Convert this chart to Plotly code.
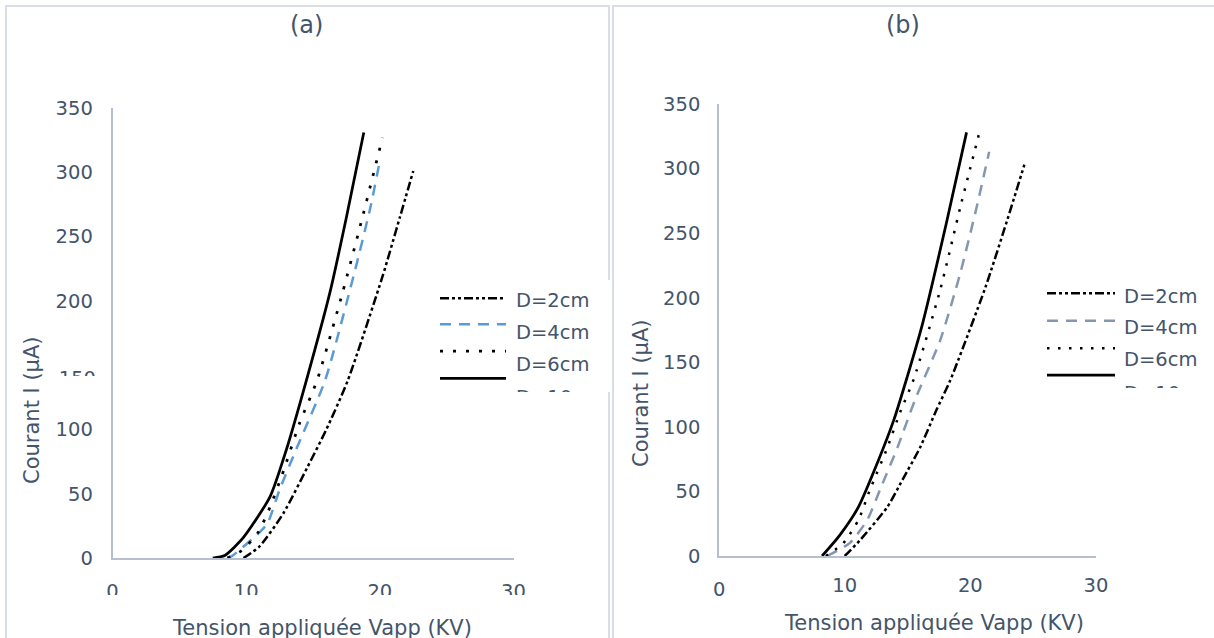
import plotly.graph_objects as go

# ---- data -------------------------------------------------------------
names = ["D=2cm", "D=4cm", "D=6cm", "D=10cm"]

# panel (a)
va_2 = [9.8, 11.0, 12.8, 14.6, 16.0, 17.6, 20.2, 21.5, 22.5]
ia_2 = [0, 9, 35, 71, 100, 138, 219, 265, 301]
va_4 = [8.6, 9.0, 11.0, 11.6, 12.5, 13.8, 15.9, 18.1, 19.3, 20.0]
ia_4 = [0, 2, 20, 27, 53, 86, 138, 222, 273, 309]
va_6 = [8.6, 9.7, 10.9, 11.8, 12.8, 14.0, 15.3, 17.2, 18.7, 20.2]
ia_6 = [0, 6, 20, 40, 68, 105, 138, 206, 265, 327]
va_10 = [7.5, 8.4, 9.8, 11.8, 13.0, 14.5, 16.3, 17.5, 18.8]
ia_10 = [0, 2, 16, 48, 84, 138, 208, 265, 331]

# panel (b)
vb_2 = [10.0, 11.2, 13.4, 14.6, 16.0, 17.3, 18.4, 21.2, 22.9, 24.3]
ib_2 = [0, 12, 38, 59, 84, 113, 136, 208, 259, 303]
vb_4 = [8.6, 10.4, 11.8, 12.8, 14.2, 15.6, 17.6, 19.2, 20.5, 21.5]
ib_4 = [0, 10, 28, 51, 84, 121, 167, 219, 270, 313]
vb_6 = [8.5, 9.9, 11.1, 12.0, 13.4, 14.4, 15.5, 17.6, 19.2, 20.8]
ib_6 = [0, 10, 28, 51, 84, 111, 137, 206, 270, 331]
vb_10 = [8.2, 9.6, 11.1, 12.6, 13.9, 14.8, 16.2, 18.1, 19.7]
ib_10 = [0, 16, 38, 72, 105, 133, 180, 258, 328]

x_ticks = [0, 10, 20, 30]
y_ticks = [0, 50, 100, 150, 200, 250, 300, 350]
y_labels = [str(v) for v in y_ticks]

# ---- style ------------------------------------------------------------
W, H = 1214, 638
FONT = "DejaVu Sans"
TXT = "#44546A"
AXIS = "#B5BFD0"
BORDER = "#D9DEE6"
FS_TICK = 19.5
FS_LEG = 19.5
FS_TITLE = 21

def px(x):
    return x / W

def py(y):
    return 1 - y / H

DASH_2 = "9px,3px,3px,3px,3px,3px"
styles_a = [
    dict(color="black", width=2.5, dash=DASH_2),
    dict(color="#5B9BD5", width=2.5, dash="11px,8px"),
    dict(color="black", width=2.75, dash="3px,10px"),
    dict(color="black", width=2.75, dash="solid"),
]
styles_b = [
    dict(color="black", width=2.5, dash=DASH_2),
    dict(color="#8497B0", width=2.5, dash="11px,8px"),
    dict(color="black", width=2.5, dash="2.5px,8.5px"),
    dict(color="black", width=2.75, dash="solid"),
]

fig = go.Figure()

series_a = [(va_2, ia_2), (va_4, ia_4), (va_6, ia_6), (va_10, ia_10)]
series_b = [(vb_2, ib_2), (vb_4, ib_4), (vb_6, ib_6), (vb_10, ib_10)]

for (v, i), st, n in zip(series_a, styles_a, names):
    fig.add_trace(go.Scatter(x=v, y=i, mode="lines",
                             line=dict(st, shape="spline", smoothing=0.6),
                             name=n, showlegend=False, xaxis="x", yaxis="y"))
for (v, i), st, n in zip(series_b, styles_b, names):
    fig.add_trace(go.Scatter(x=v, y=i, mode="lines",
                             line=dict(st, shape="spline", smoothing=0.6),
                             name=n, showlegend=False, xaxis="x2", yaxis="y2"))

tf_tick = dict(family=FONT, size=FS_TICK, color=TXT)
tf_leg = dict(family=FONT, size=FS_LEG, color=TXT)
tf_title = dict(family=FONT, size=FS_TITLE, color=TXT)

# ---- legends (drawn on pixel-scaled helper axes so they clip) ----------
def add_legend(xa, ya, styles, line_x, line_ys, text_x, text_ys):
    for st, ly in zip(styles, line_ys):
        fig.add_trace(go.Scatter(x=line_x, y=[ly, ly], mode="lines", line=st,
                                 showlegend=False, hoverinfo="skip",
                                 xaxis=xa, yaxis=ya))
    fig.add_trace(go.Scatter(x=[text_x] * len(names), y=text_ys, mode="text",
                             text=names, textposition="middle right",
                             textfont=tf_leg, showlegend=False,
                             hoverinfo="skip", xaxis=xa, yaxis=ya))

add_legend("x3", "y3", styles_a, [440, 506], [298.3, 324.3, 351, 378.3],
           516, [302, 334, 366, 399])
add_legend("x4", "y4", styles_b, [1047, 1115], [293.3, 320.7, 348.3, 375],
           1124, [298.5, 329.5, 361, 395])

# the "150" label of panel (a) sits low and is cut off by its box
fig.add_trace(go.Scatter(x=[96], y=[380], mode="text", text=[y_labels[3]],
                         textposition="middle left", textfont=tf_tick,
                         showlegend=False, hoverinfo="skip",
                         xaxis="x5", yaxis="y5"))

# ---- axes -------------------------------------------------------------
def xax(dom, standoff):
    return dict(domain=dom, range=[0, 30], tickvals=x_ticks, showgrid=False,
                zeroline=False, showline=True, linecolor=AXIS, linewidth=1.5,
                ticks="", ticklabelstandoff=standoff, automargin=False,
                tickfont=tf_tick, fixedrange=True)

def yax(dom, standoff, labels):
    return dict(domain=dom, range=[0, 350], tickvals=y_ticks, ticktext=labels,
                showgrid=False, zeroline=False, showline=True, linecolor=AXIS,
                linewidth=1.5, ticks="", ticklabelstandoff=standoff,
                automargin=False, tickfont=tf_tick, fixedrange=True)

hidden = dict(visible=False, fixedrange=True, automargin=False)

labels_a = [t if v != 150 else "" for v, t in zip(y_ticks, y_labels)]

layout_axes = dict(
    xaxis=dict(xax([px(112.5), px(513.5)], 15), anchor="y"),
    yaxis=dict(yax([py(558), py(108)], 14, labels_a), anchor="x"),
    xaxis2=dict(xax([px(719), px(1096)], 11), anchor="y2",
                tickvals=x_ticks[1:]),
    yaxis2=dict(yax([py(556), py(104)], 13, y_labels), anchor="x2"),
    xaxis3=dict(hidden, domain=[px(430), px(610)], range=[430, 610], anchor="y3"),
    yaxis3=dict(hidden, domain=[py(392), py(280)], range=[392, 280], anchor="x3"),
    xaxis4=dict(hidden, domain=[px(1040), 1.0], range=[1040, 1214], anchor="y4"),
    yaxis4=dict(hidden, domain=[py(388), py(280)], range=[388, 280], anchor="x4"),
    xaxis5=dict(hidden, domain=[px(40), px(110)], range=[40, 110], anchor="y5"),
    yaxis5=dict(hidden, domain=[py(376), py(340)], range=[376, 340], anchor="x5"),
)

# ---- texts ------------------------------------------------------------
def note(text, x, y, font, xref="paper", angle=0):
    return dict(text=text, x=x, y=y, xref=xref, yref="paper", showarrow=False,
                xanchor="center", yanchor="middle", textangle=angle, font=font)

annotations = [
    note("(a)", px(306), py(25), dict(tf_title, size=24)),
    note("(b)", px(903), py(25), dict(tf_title, size=24)),
    note("Courant I (µA)", px(32), py(410), tf_title, angle=-90),
    note("Courant I (µA)", px(641), py(393), tf_title, angle=-90),
    note("Tension appliquée Vapp (KV)", px(322), py(628), tf_title),
    note("Tension appliquée Vapp (KV)", px(934), py(623), tf_title),
    note("0", 0, py(589), tf_tick, xref="x2"),
]

# ---- frames and masks ---------------------------------------------------
shapes = [
    dict(type="rect", xref="paper", yref="paper", x0=px(6), x1=px(609),
         y0=py(6), y1=-0.05, line=dict(color=BORDER, width=2), layer="below"),
    dict(type="rect", xref="paper", yref="paper", x0=px(613), x1=1.05,
         y0=py(6), y1=-0.05, line=dict(color=BORDER, width=2), layer="below"),
    # white mask over the lower part of the x tick labels of panel (a)
    dict(type="rect", xref="paper", yref="paper", x0=px(90), x1=px(545),
         y0=py(595), y1=py(614), fillcolor="white", line=dict(width=0),
         layer="above"),
]

fig.update_layout(
    template="none",
    width=W, height=H,
    margin=dict(l=0, r=0, t=0, b=0, pad=0, autoexpand=False),
    paper_bgcolor="white", plot_bgcolor="white",
    font=dict(family=FONT, color=TXT),
    annotations=annotations, shapes=shapes, showlegend=False,
    **layout_axes,
)

fig.write_html("out.html", config={"displayModeBar": False})
